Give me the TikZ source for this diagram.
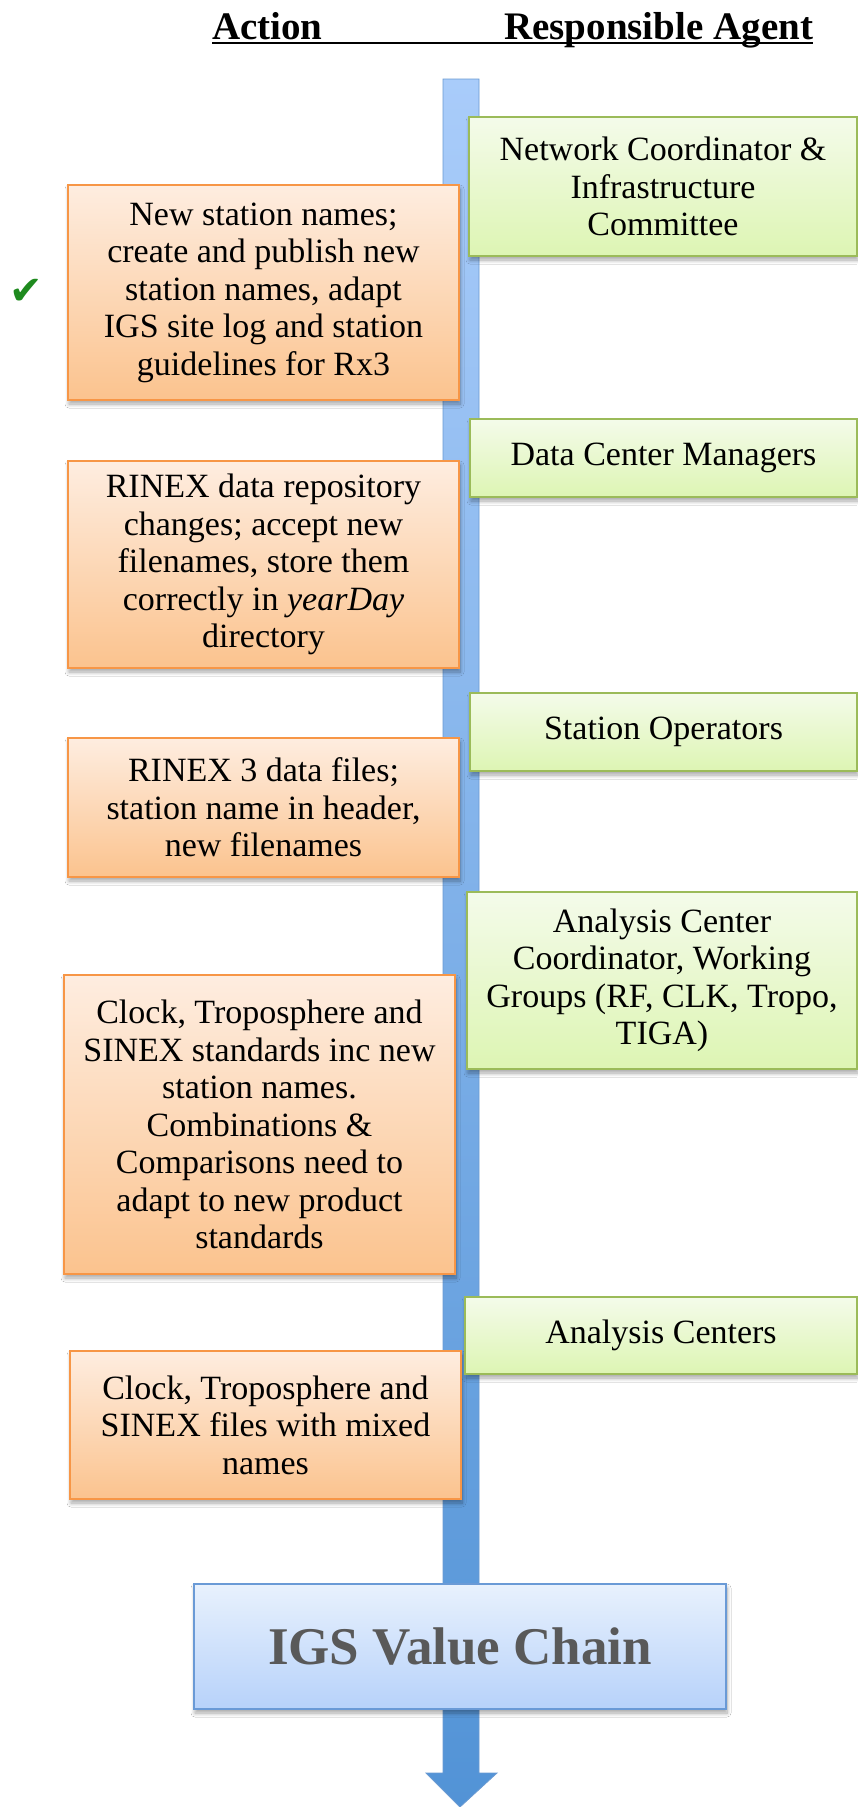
\documentclass[tikz,border=0pt]{standalone}
\usepackage{fontspec}
\setmainfont{Liberation Serif}
\newfontfamily\symfont{DejaVu Sans}
\usetikzlibrary{shadows.blur}
\definecolor{orBorder}{HTML}{F79646}
\definecolor{orTop}{HTML}{FEEDE0}
\definecolor{orBot}{HTML}{FBC38E}
\definecolor{grBorder}{HTML}{9BBB59}
\definecolor{grTop}{HTML}{F4FBEA}
\definecolor{grBot}{HTML}{DDF5B3}
\definecolor{blBorder}{HTML}{6A9AD6}
\definecolor{blTop}{HTML}{E8F1FD}
\definecolor{blBot}{HTML}{B7D2FA}
\definecolor{barTop}{HTML}{A9CCFA}
\definecolor{barBot}{HTML}{5293D6}
\definecolor{barBorder}{HTML}{6A9AD2}
\definecolor{chkGreen}{HTML}{1E8A1E}
\definecolor{igsText}{HTML}{595959}
\begin{document}
\begin{tikzpicture}[x=1pt,y=-1pt,
  every node/.style={inner sep=0pt, outer sep=0pt},
  bodyfont/.style={font=\fontsize{34}{37.5}\selectfont},
  boxshadow/.style={blur shadow={shadow xshift=1pt, shadow yshift=-4pt, shadow blur radius=4pt, shadow blur steps=8, shadow opacity=35}},
  actbox/.style={draw=orBorder, line width=1.5pt, top color=orTop, bottom color=orBot, align=center, bodyfont, boxshadow},
  agentbox/.style={draw=grBorder, line width=2pt, top color=grTop, bottom color=grBot, align=center, bodyfont, boxshadow},
  chainbox/.style={draw=blBorder, line width=1.5pt, top color=blTop, bottom color=blBot, align=center, boxshadow,
    font=\bfseries\fontsize{53}{56}\selectfont, text=igsText},
  headfont/.style={font=\bfseries\fontsize{39}{42}\selectfont}
]
\useasboundingbox[fill=white] (0,0) rectangle (857,1807);

% header
\node[anchor=base west, headfont] (hAct) at (212,39) {Action};
\node[anchor=base east, headfont] (hRes) at (813,39) {Responsible Agent};
\draw[line width=1.5pt] ([yshift=-4pt]hAct.base west) -- ([yshift=-4pt]hRes.base east);

% timeline arrow
\path[draw=barBorder, line width=0.8pt, top color=barTop, bottom color=barBot]
  (443,79) -- (479,79) -- (479,1773) -- (497,1773) -- (460,1807) -- (426,1773) -- (443,1773) -- cycle;

% action boxes
\node[actbox, minimum width=391pt, minimum height=215pt] (o1) at (263.5,292.5)
  {New station names;\\create and publish new\\station names, adapt\\IGS site log and station\\guidelines for Rx3};
\node[actbox, minimum width=391pt, minimum height=207pt] (o2) at (263.5,564.5)
  {RINEX data repository\\changes; accept new\\filenames, store them\\correctly in \textit{yearDay}\\directory};
\node[actbox, minimum width=391pt, minimum height=139pt] (o3) at (263.5,807.5)
  {RINEX 3 data files;\\station name in header,\\new filenames};
\node[actbox, minimum width=391pt, minimum height=299pt] (o4) at (259.5,1124.5)
  {Clock, Troposphere and\\SINEX standards inc new\\station names.\\Combinations \&\\Comparisons need to\\adapt to new product\\standards};
\node[actbox, minimum width=391pt, minimum height=148pt] (o5) at (265.5,1425)
  {Clock, Troposphere and\\SINEX files with mixed\\names};

% agent boxes
\node[agentbox, minimum width=388pt, minimum height=139pt] (g1) at (663,186.5)
  {Network Coordinator \&\\Infrastructure\\Committee};
\node[agentbox, minimum width=387pt, minimum height=78pt] (g2) at (663.5,458)
  {Data Center Managers};
\node[agentbox, minimum width=387pt, minimum height=78pt] (g3) at (663.5,732)
  {Station Operators};
\node[agentbox, minimum width=390pt, minimum height=177pt] (g4) at (662,980.5)
  {Analysis Center\\Coordinator, Working\\Groups (RF, CLK, Tropo,\\TIGA)};
\node[agentbox, minimum width=392pt, minimum height=77pt] (g5) at (661,1335.5)
  {Analysis Centers};

% check mark
\node[text=chkGreen, font=\symfont\fontsize{40}{40}\selectfont] (chk) at (26,292) {✔};

% value chain box
\node[chainbox, minimum width=532pt, minimum height=125pt] (igs) at (460,1646.5) {IGS Value Chain};
\end{tikzpicture}
\end{document}
